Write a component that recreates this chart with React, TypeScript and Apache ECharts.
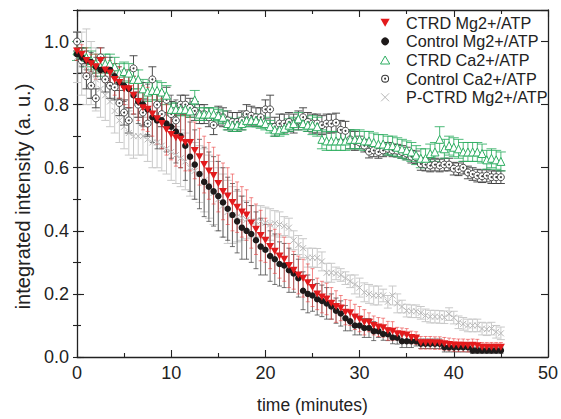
import React, { useEffect, useRef } from 'react';
import * as echarts from 'echarts';

const TIME = [0,0.5,1,1.5,2,2.5,3,3.5,4,4.5,5,5.5,6,6.5,7,7.5,8,8.5,9,9.5,10,10.5,11,11.5,12,12.5,13,13.5,14,14.5,15,15.5,16,16.5,17,17.5,18,18.5,19,19.5,20,20.5,21,21.5,22,22.5,23,23.5,24,24.5,25,25.5,26,26.5,27,27.5,28,28.5,29,29.5,30,30.5,31,31.5,32,32.5,33,33.5,34,34.5,35,35.5,36,36.5,37,37.5,38,38.5,39,39.5,40,40.5,41,41.5,42,42.5,43,43.5,44,44.5,45];

// CTRD Mg2+/ATP (red filled down-triangles)
const CTRD_MG = [
  0.97,0.96,0.94,0.93,0.92,0.94,0.91,0.90,0.88,0.87,
  0.85,0.85,0.83,0.81,0.79,0.785,0.77,0.755,0.74,0.72,
  0.705,0.695,0.69,0.68,0.68,0.655,0.635,0.61,0.59,0.575,
  0.55,0.525,0.51,0.49,0.475,0.46,0.45,0.425,0.405,0.385,
  0.37,0.35,0.335,0.32,0.31,0.29,0.275,0.26,0.25,0.235,
  0.22,0.2,0.19,0.184,0.17,0.16,0.155,0.142,0.14,0.127,
  0.12,0.11,0.11,0.1,0.095,0.093,0.083,0.082,0.074,0.072,
  0.07,0.062,0.06,0.045,0.045,0.045,0.044,0.044,0.042,0.04,
  0.038,0.037,0.037,0.036,0.037,0.036,0.031,0.031,0.031,0.031,0.031];
const CTRD_MG_ERR = [
  0.03,0.03,0.04,0.03,0.04,0.04,0.04,0.04,0.05,0.05,
  0.05,0.06,0.06,0.06,0.07,0.07,0.07,0.08,0.08,0.08,
  0.08,0.09,0.09,0.09,0.09,0.09,0.09,0.09,0.09,0.09,
  0.09,0.09,0.09,0.09,0.08,0.08,0.08,0.08,0.08,0.08,
  0.07,0.07,0.07,0.07,0.07,0.07,0.06,0.06,0.06,0.06,
  0.06,0.05,0.05,0.05,0.05,0.05,0.04,0.04,0.04,0.04,
  0.04,0.04,0.03,0.03,0.03,0.03,0.03,0.03,0.02,0.02,
  0.02,0.02,0.02,0.02,0.02,0.02,0.02,0.02,0.02,0.02,
  0.02,0.02,0.02,0.02,0.02,0.02,0.015,0.015,0.015,0.015,0.015];

// Control Mg2+/ATP (black filled circles)
const CONTROL_MG = [
  0.96,0.95,0.94,0.935,0.92,0.91,0.91,0.91,0.89,0.87,
  0.86,0.85,0.83,0.81,0.8,0.785,0.76,0.75,0.75,0.74,
  0.73,0.715,0.7,0.67,0.635,0.61,0.58,0.555,0.54,0.525,
  0.51,0.49,0.47,0.45,0.43,0.41,0.4,0.39,0.37,0.35,
  0.34,0.32,0.31,0.295,0.29,0.275,0.265,0.25,0.21,0.2,
  0.195,0.183,0.178,0.17,0.16,0.147,0.138,0.123,0.113,0.1,
  0.1,0.092,0.092,0.082,0.082,0.073,0.072,0.062,0.061,0.05,
  0.05,0.05,0.05,0.042,0.042,0.042,0.042,0.042,0.031,0.031,
  0.031,0.031,0.031,0.031,0.021,0.021,0.021,0.021,0.021,0.021,0.021];
const CONTROL_MG_ERR = [
  0.02,0.03,0.03,0.03,0.03,0.03,0.04,0.04,0.04,0.05,
  0.05,0.06,0.06,0.07,0.07,0.08,0.08,0.09,0.09,0.09,
  0.10,0.10,0.10,0.11,0.11,0.11,0.11,0.11,0.11,0.11,
  0.11,0.11,0.10,0.10,0.10,0.10,0.09,0.09,0.09,0.09,
  0.08,0.08,0.08,0.07,0.07,0.07,0.06,0.06,0.06,0.06,
  0.05,0.05,0.05,0.05,0.04,0.04,0.04,0.04,0.03,0.03,
  0.03,0.03,0.03,0.03,0.02,0.02,0.02,0.02,0.02,0.02,
  0.02,0.02,0.015,0.015,0.015,0.015,0.015,0.015,0.015,0.015,
  0.015,0.015,0.015,0.015,0.01,0.01,0.01,0.01,0.01,0.01,0.01];

// CTRD Ca2+/ATP (green open triangles)
const CTRD_CA = [
  0.97,0.96,0.95,0.94,0.93,0.92,0.93,0.93,0.92,0.9,
  0.905,0.9,0.88,0.88,0.85,0.84,0.845,0.845,0.84,0.83,
  0.785,0.785,0.785,0.785,0.78,0.815,0.77,0.77,0.77,0.77,
  0.765,0.76,0.74,0.735,0.735,0.74,0.75,0.75,0.75,0.745,
  0.74,0.73,0.72,0.72,0.725,0.735,0.74,0.755,0.74,0.735,
  0.735,0.73,0.69,0.685,0.685,0.685,0.685,0.685,0.69,0.69,
  0.69,0.685,0.685,0.68,0.675,0.675,0.67,0.67,0.665,0.66,
  0.655,0.65,0.64,0.63,0.63,0.645,0.65,0.69,0.66,0.67,
  0.665,0.66,0.65,0.65,0.65,0.65,0.645,0.625,0.63,0.625,0.62];
const CTRD_CA_ERR = [
  0.03,0.02,0.03,0.03,0.03,0.03,0.03,0.03,0.03,0.03,
  0.03,0.03,0.03,0.03,0.03,0.03,0.03,0.03,0.03,0.03,
  0.02,0.02,0.02,0.02,0.02,0.03,0.02,0.02,0.02,0.02,
  0.02,0.02,0.02,0.02,0.02,0.02,0.02,0.02,0.02,0.02,
  0.02,0.02,0.02,0.02,0.02,0.02,0.02,0.02,0.02,0.02,
  0.03,0.03,0.03,0.03,0.03,0.03,0.03,0.03,0.03,0.03,
  0.03,0.03,0.03,0.03,0.03,0.03,0.03,0.03,0.03,0.03,
  0.03,0.03,0.03,0.03,0.03,0.03,0.03,0.04,0.03,0.03,
  0.03,0.03,0.03,0.03,0.03,0.03,0.03,0.03,0.03,0.03,0.03];

// Control Ca2+/ATP (open circles with a dot)
const CONTROL_CA = [
  1.0,0.94,0.89,0.86,0.82,0.95,0.88,0.86,0.855,0.805,
  0.775,0.75,0.915,0.8,0.775,0.74,0.88,0.8,0.77,0.815,
  0.77,0.75,0.8,0.8,0.79,0.78,0.77,0.77,0.76,0.735,
  0.765,0.76,0.75,0.745,0.745,0.75,0.77,0.765,0.76,0.76,
  0.785,0.785,0.73,0.74,0.74,0.745,0.74,0.75,0.76,0.745,
  0.74,0.74,0.735,0.74,0.74,0.743,0.72,0.717,0.69,0.685,
  0.68,0.67,0.651,0.655,0.65,0.655,0.66,0.655,0.654,0.65,
  0.645,0.635,0.633,0.612,0.61,0.607,0.61,0.607,0.61,0.61,
  0.597,0.595,0.6,0.585,0.58,0.575,0.573,0.575,0.57,0.57,0.57];
const CONTROL_CA_ERR = [
  0.03,0.04,0.04,0.04,0.03,0.03,0.04,0.04,0.04,0.04,
  0.04,0.04,0.04,0.04,0.04,0.04,0.04,0.04,0.04,0.04,
  0.04,0.04,0.03,0.03,0.03,0.03,0.03,0.03,0.03,0.03,
  0.03,0.03,0.03,0.03,0.03,0.03,0.03,0.03,0.03,0.03,
  0.03,0.045,0.03,0.03,0.03,0.03,0.03,0.03,0.03,0.03,
  0.03,0.03,0.03,0.03,0.03,0.03,0.03,0.03,0.03,0.03,
  0.02,0.02,0.02,0.02,0.02,0.02,0.02,0.02,0.02,0.02,
  0.02,0.02,0.02,0.02,0.02,0.02,0.02,0.02,0.02,0.02,
  0.02,0.02,0.02,0.02,0.02,0.02,0.02,0.02,0.02,0.02,0.02];

// P-CTRD Mg2+/ATP (light grey crosses)
const PCTRD_MG = [
  0.95,0.93,0.92,0.9,0.88,0.85,0.83,0.81,0.78,0.75,
  0.73,0.71,0.7,0.7,0.7,0.69,0.68,0.68,0.67,0.66,
  0.65,0.64,0.63,0.62,0.6,0.59,0.58,0.56,0.54,0.52,
  0.5,0.48,0.46,0.45,0.445,0.44,0.435,0.43,0.43,0.43,
  0.425,0.42,0.424,0.42,0.415,0.41,0.37,0.355,0.345,0.315,
  0.315,0.314,0.303,0.267,0.267,0.265,0.26,0.25,0.24,0.23,
  0.22,0.205,0.2,0.195,0.195,0.195,0.175,0.195,0.17,0.16,
  0.147,0.145,0.145,0.14,0.132,0.128,0.128,0.127,0.126,0.136,
  0.125,0.11,0.105,0.1,0.1,0.1,0.09,0.088,0.09,0.08,0.075];
const PCTRD_MG_ERR = [
  0.08,0.10,0.12,0.10,0.10,0.09,0.08,0.08,0.07,0.07,
  0.07,0.07,0.07,0.06,0.06,0.07,0.08,0.08,0.08,0.08,
  0.09,0.09,0.09,0.09,0.09,0.09,0.09,0.10,0.10,0.10,
  0.10,0.10,0.10,0.09,0.08,0.07,0.06,0.05,0.05,0.05,
  0.05,0.05,0.04,0.04,0.03,0.03,0.03,0.03,0.03,0.03,
  0.03,0.03,0.03,0.03,0.03,0.02,0.02,0.02,0.02,0.03,
  0.03,0.03,0.03,0.03,0.03,0.02,0.02,0.03,0.03,0.02,
  0.02,0.02,0.02,0.02,0.02,0.02,0.02,0.02,0.02,0.02,
  0.02,0.02,0.02,0.02,0.02,0.02,0.02,0.02,0.02,0.02,0.02];

const X_TICKS = { min: 0, max: 50, interval: 10 };
const Y_TICKS = { min: 0, max: 1.1, major: 0.2, minor: 0.1 };

const FONT = "'Liberation Sans', Arial, Helvetica, sans-serif";
const AXIS_COLOR = '#222';
const RED = '#e31a1c';
const GREEN = '#2fae62';
const CIRCLE_GREY = '#3a3a3a';
const CROSS_GREY = '#b8b8b8';

const DOWN_TRI = 'path://M0,0L10,0L5,8.66Z';
const UP_TRI = 'path://M5,0L10,8.66L0,8.66Z';
const CROSS = 'path://M0,0L10,10M10,0L0,10';
const RING_DOT = 'path://M5,0A5,5 0 1,1 5,10A5,5 0 1,1 5,0ZM5,1.3A3.7,3.7 0 1,0 5,8.7A3.7,3.7 0 1,0 5,1.3ZM5,3.7A1.3,1.3 0 1,1 5,6.3A1.3,1.3 0 1,1 5,3.7Z';

function errSeries(name: string, vals: number[], errs: number[], color: string, cap: number, width: number) {
  return {
    type: 'custom',
    name,
    silent: true,
    xAxisIndex: 0,
    yAxisIndex: 0,
    data: TIME.map((t, i) => [t, vals[i], errs[i]]),
    encode: { x: 0, y: 1 },
    renderItem: (params: any, api: any) => {
      const x = api.value(0);
      const y = api.value(1);
      const e = api.value(2);
      const hi = api.coord([x, y + e]);
      const lo = api.coord([x, y - e]);
      const cx = hi[0];
      const style = { stroke: color, lineWidth: width, fill: null };
      return {
        type: 'group',
        children: [
          { type: 'line', shape: { x1: cx, y1: hi[1], x2: cx, y2: lo[1] }, style },
          { type: 'line', shape: { x1: cx - cap / 2, y1: hi[1], x2: cx + cap / 2, y2: hi[1] }, style },
          { type: 'line', shape: { x1: cx - cap / 2, y1: lo[1], x2: cx + cap / 2, y2: lo[1] }, style },
        ],
      };
    },
  };
}

function pts(vals: number[]) {
  return TIME.map((t, i) => [t, vals[i]]);
}

export default function App() {
  const ref = useRef<HTMLDivElement>(null);
  useEffect(() => {
    const chart = echarts.init(ref.current!, null, { renderer: 'svg' });
    const axisLine = { show: true, onZero: false, lineStyle: { color: AXIS_COLOR, width: 1.3 } };
    const tickStyle = { color: AXIS_COLOR, width: 1.1 };
    const labelStyle = { fontFamily: FONT, fontSize: 18, color: AXIS_COLOR };
    const yCommon = { type: 'value', min: Y_TICKS.min, max: Y_TICKS.max, splitLine: { show: false } };
    const xCommon = {
      type: 'value', min: X_TICKS.min, max: X_TICKS.max, interval: X_TICKS.interval,
      splitLine: { show: false }, axisLine,
      axisTick: { show: true, inside: true, length: 7, lineStyle: tickStyle },
      minorTick: { show: true, splitNumber: 2, length: 4, lineStyle: tickStyle },
      minorSplitLine: { show: false },
    };
    const option: any = {
      animation: false,
      backgroundColor: '#fff',
      grid: { left: 77, right: 12, top: 10, bottom: 59, containLabel: false },
      xAxis: [
        {
          ...xCommon, position: 'bottom',
          axisLabel: { ...labelStyle, margin: 7 },
          name: 'time (minutes)', nameLocation: 'middle', nameGap: 39,
          nameTextStyle: { fontFamily: FONT, fontSize: 17.5, color: AXIS_COLOR },
        },
        { ...xCommon, position: 'top', axisLabel: { show: false } },
      ],
      yAxis: [
        {
          ...yCommon, position: 'left', interval: Y_TICKS.major, axisLine,
          axisTick: { show: true, inside: true, length: 7, lineStyle: tickStyle },
          axisLabel: {
            ...labelStyle, margin: 8, showMaxLabel: false,
            formatter: (v: number) => (v > 1.05 ? '' : v.toFixed(1)),
          },
          name: 'integrated intensity (a. u.)', nameLocation: 'middle', nameGap: 43, nameRotate: 90,
          nameTextStyle: { fontFamily: FONT, fontSize: 20, color: AXIS_COLOR, padding: [0, 26, 0, 0] },
        },
        {
          ...yCommon, position: 'left', interval: Y_TICKS.minor, axisLine: { show: false },
          axisTick: { show: true, inside: true, length: 4, lineStyle: tickStyle },
          axisLabel: { show: false },
        },
        {
          ...yCommon, position: 'right', interval: Y_TICKS.major, axisLine,
          axisTick: { show: true, inside: true, length: 7, lineStyle: tickStyle },
          axisLabel: { show: false },
        },
        {
          ...yCommon, position: 'right', interval: Y_TICKS.minor, axisLine: { show: false },
          axisTick: { show: true, inside: true, length: 4, lineStyle: tickStyle },
          axisLabel: { show: false },
        },
      ],
      legend: {
        orient: 'vertical', left: 380, top: 14.7, padding: 0, itemGap: 2.65,
        itemWidth: 32, itemHeight: 8, symbolKeepAspect: true,
        textStyle: { fontFamily: FONT, fontSize: 16.2, color: AXIS_COLOR, lineHeight: 16 },
        data: [
          { name: 'CTRD Mg2+/ATP', icon: DOWN_TRI, itemStyle: { color: RED, borderWidth: 0 } },
          { name: 'Control Mg2+/ATP', icon: 'circle', itemStyle: { color: '#1e1a1a', borderWidth: 0 } },
          { name: 'CTRD Ca2+/ATP', icon: UP_TRI, itemStyle: { color: '#fff', borderColor: GREEN, borderWidth: 1 } },
          { name: 'Control Ca2+/ATP', icon: RING_DOT, itemStyle: { color: CIRCLE_GREY, borderWidth: 0 } },
          { name: 'P-CTRD Mg2+/ATP', icon: CROSS, itemStyle: { color: 'transparent', borderColor: CROSS_GREY, borderWidth: 1 } },
        ],
      },
      series: [
        errSeries('err-pctrd', PCTRD_MG, PCTRD_MG_ERR, '#c9c9c9', 8, 1),
        {
          type: 'scatter', name: 'P-CTRD Mg2+/ATP', data: pts(PCTRD_MG), symbol: CROSS, symbolSize: 6,
          itemStyle: { color: 'transparent', borderColor: CROSS_GREY, borderWidth: 1, opacity: 1 },
        },
        errSeries('err-ctrlca', CONTROL_CA, CONTROL_CA_ERR, '#3c3c3c', 8, 0.9),
        {
          type: 'scatter', name: 'Control Ca2+/ATP', data: pts(CONTROL_CA), symbol: 'circle', symbolSize: 7,
          itemStyle: { color: '#fff', borderColor: CIRCLE_GREY, borderWidth: 0.9, opacity: 1 },
        },
        {
          type: 'scatter', name: 'ctrlca-dot', data: pts(CONTROL_CA), symbol: 'circle', symbolSize: 2,
          silent: true, itemStyle: { color: CIRCLE_GREY, opacity: 1 },
        },
        errSeries('err-ctrdca', CTRD_CA, CTRD_CA_ERR, 'rgba(47,174,98,0.85)', 10, 1),
        {
          type: 'scatter', name: 'CTRD Ca2+/ATP', data: pts(CTRD_CA), symbol: 'triangle', symbolSize: 8,
          itemStyle: { color: '#fff', borderColor: GREEN, borderWidth: 1, opacity: 1 },
        },
        errSeries('err-ctrlmg', CONTROL_MG, CONTROL_MG_ERR, 'rgba(70,70,70,0.75)', 5, 1),
        {
          type: 'scatter', name: 'Control Mg2+/ATP', data: pts(CONTROL_MG), symbol: 'circle', symbolSize: 6.5,
          itemStyle: { color: '#1e1a1a', opacity: 1 },
        },
        errSeries('err-ctrdmg', CTRD_MG, CTRD_MG_ERR, 'rgba(235,60,60,0.6)', 4, 1),
        {
          type: 'scatter', name: 'CTRD Mg2+/ATP', data: pts(CTRD_MG), symbol: DOWN_TRI, symbolSize: [8, 7],
          itemStyle: { color: RED, opacity: 1 },
        },
      ],
    };
    chart.setOption(option);
    return () => chart.dispose();
  }, []);
  return (
    <div
      ref={ref}
      style={{ position: 'fixed', left: 0, top: 0, width: 561, height: 419, background: '#fff' }}
    />
  );
}
